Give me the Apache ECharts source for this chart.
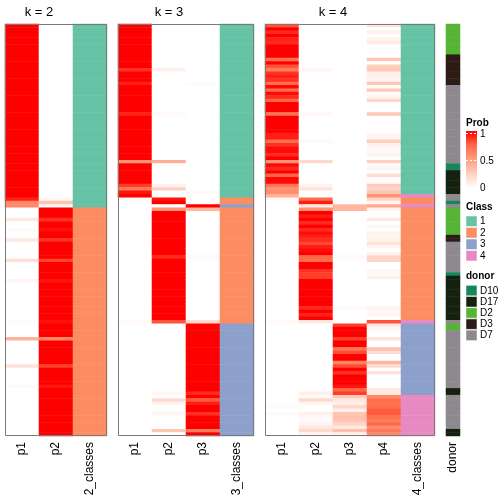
<!DOCTYPE html>
<html><head><meta charset="utf-8">
<script src="https://cdn.jsdelivr.net/npm/echarts@6/dist/echarts.min.js"></script>
<style>html,body{margin:0;padding:0;background:#fff}#c{width:504px;height:504px}</style>
</head><body><div id="c"></div>
<script>
// ---- data (rows top to bottom) ----
const k2_p1 = [
1,1,1,1,1,1,1,1,1,1, 1,1,1,1,1,1,1,1,1,1, 1,1,1,1,1,1,1,1,1,1, 1,1,1,1,1,1,1,1,1,1, 1,1,1,1,1,1,1,1,1,1,
1,0.92,0.6,0.6,0,0,0,0.12,0,0,
0.03,0,0,0.12,0,0,0,0,0,0.17,
0,0,0,0,0,0.05,0,0,0,0,
0,0,0,0,0,0,0,0.02,0,0,
0,0,0.4,0,0,0,0,0,0,0,
0.15,0,0,0,0,0,0.03,0,0,0,
0,0,0,0,0,0,0,0,0,0,0];
const k2_p2 = [
0,0,0,0,0,0,0,0,0,0, 0,0,0,0,0,0,0,0,0,0, 0,0,0,0,0,0,0,0,0,0, 0,0,0,0,0,0,0,0,0,0, 0,0,0,0,0,0,0,0,0,0,
0,0.05,0.3,0.03,1,1,1,0.88,1,1,
0.96,1,1,0.88,1,1,1,1,1,0.83,
1,1,1,1,1,0.95,1,1,1,1,
1,1,1,1,1,1,1,0.96,1,1,
1,1,0.6,1,1,1,1,1,1,1,
0.85,1,1,1,1,1,0.95,1,1,1,
1,1,1,1,1,1,1,1,1,1,1];
const k3_p1 = [
1,1,1,1,1,1,1,1,1,1,
1,1,1,0.88,1,1,1,0.92,1,1,
1,1,1,1,1,1,0.92,1,1,1,
1,1,1,1,1,1,1,1,1,1,
0.55,1,1,1,1,1,1,0.85,0.65,0.95,
1,0.03,0,0,0,0,0,0,0,0,
0,0,0,0,0,0,0,0,0,0,
0,0,0,0,0,0,0,0,0,0,
0,0,0,0,0,0,0,0.03,0,0,
0,0,0,0,0,0,0,0,0,0,
0,0,0,0,0,0,0,0,0,0,
0,0,0,0,0,0,0,0,0,0,0];
const k3_p2 = [
0,0,0,0,0,0,0,0,0,0,
0,0,0,0.07,0,0,0,0,0,0,
0,0,0,0,0,0,0.03,0,0,0,
0,0,0,0,0,0,0,0,0,0,
0.42,0,0,0,0,0,0,0.07,0.25,0,
0,0.95,1,0,0.55,1,1,1,1,1,
1,1,1,1,1,1,1,1,0.9,1,
1,1,1,1,1,1,1,1,1,1,
1,1,1,1,1,1,1,0.8,0,0,
0,0,0,0,0,0,0,0,0,0,
0,0,0,0,0,0,0,0,0.05,0,
0.18,0.06,0,0,0.05,0,0,0,0,0.3,0];
const k3_p3 = [
0,0,0,0,0,0,0,0,0,0,
0,0,0,0,0,0,0,0.02,0,0,
0,0,0,0,0,0,0,0,0,0,
0,0,0,0,0,0,0,0,0,0,
0,0,0,0,0,0,0,0,0,0.03,
0,0,0,1,0.38,0,0,0,0,0,
0,0,0,0,0,0,0,0,0.03,0,
0,0,0,0,0,0,0,0,0,0,
0,0,0,0,0,0,0,0.2,1,1,
1,1,1,1,1,1,1,1,1,1,
1,1,1,1,1,1,1,1,0.9,1,
0.78,0.93,1,1,0.88,1,1,1,1,0.65,1];
const k4_p1 = [
0.8,1,0.9,1,0.92,0.9,1,1,1,1,
0.7,1,0.8,0.65,0.88,0.92,0.88,0.72,0.98,0.72,
0.98,0.9,0.75,1,1,1,0.68,1,1,1,
1,1,0.93,0.93,0.72,0.88,0.97,0.97,0.9,1,
0.55,0.98,0.9,1,0.75,0.98,0.98,0.68,0.55,0.58,
0.4,0.04,0,0,0,0,0,0,0,0,
0,0,0,0,0,0,0,0,0,0,
0,0,0,0,0,0,0,0,0,0,
0,0,0,0,0,0,0,0.03,0,0,
0,0,0,0,0,0,0,0,0,0,
0,0,0,0,0,0,0,0,0,0,
0,0,0.02,0,0.02,0,0,0,0,0,0];
const k4_p2 = [
0,0,0,0,0,0,0,0,0,0,
0,0,0,0.05,0,0,0,0,0,0,
0,0,0,0,0,0,0.04,0,0,0,
0,0,0,0,0.03,0,0,0,0,0,
0.2,0,0,0,0,0,0,0.06,0.15,0,
0,0.72,0.93,0.1,0.55,1,0.93,1,0.9,1,
0.9,0.97,0.92,0.9,0.82,0.93,0.97,1,0.75,0.72,
1,1,0.88,0.85,0.85,1,1,1,1,1,
1,1,1,0.9,1,0.92,1,0.12,0,0,
0,0,0,0,0,0,0,0,0,0,
0,0,0,0,0,0,0,0,0.08,0.03,
0.2,0.05,0,0,0.08,0.03,0.02,0.05,0.12,0.2,0.05];
const k4_p3 = [
0,0,0,0,0,0,0,0,0,0, 0,0,0,0,0,0,0,0,0,0, 0,0,0,0,0,0,0,0,0,0, 0,0,0,0,0,0,0,0,0,0, 0,0,0,0,0,0,0,0,0,0,
0,0,0,0.38,0.38,0,0,0,0,0,
0,0,0,0,0,0,0,0,0.03,0,
0,0,0,0,0,0,0,0,0,0,
0,0,0,0.03,0,0,0,0,0.85,1,
1,1,0.85,1,1,0.68,0.82,1,1,0.62,
0.82,1,0.88,1,1,1,0.95,0.75,0.85,0.28,
0.12,0.08,0.22,0.08,0.3,0.33,0.3,0.22,0.12,0.33,0.08];
const k4_p4 = [
0.15,0,0.08,0,0.06,0.1,0,0,0,0,
0.3,0,0.25,0.28,0.08,0.08,0.05,0.28,0.02,0.28,
0.02,0.06,0.22,0,0,0,0.28,0,0,0,
0,0,0.05,0.05,0.25,0.08,0.03,0.03,0.07,0,
0.25,0.02,0.06,0,0.18,0.02,0.02,0.26,0.22,0.3,
0.55,0.22,0.05,0.45,0.06,0,0,0.12,0,0.05,
0,0.07,0.05,0.07,0.15,0.05,0,0.06,0.22,0.22,
0,0,0.05,0.03,0.07,0,0,0,0,0,
0,0,0,0.07,0.03,0.06,0,0.8,0.12,0.04,
0,0,0.15,0,0,0.32,0.18,0,0,0.38,
0.18,0,0.15,0,0,0,0,0.12,0.12,0.6,
0.72,0.7,0.72,0.78,0.78,0.72,0.65,0.75,0.58,0.68,0.6];
const k2_cls = [
1,1,1,1,1,1,1,1,1,1, 1,1,1,1,1,1,1,1,1,1, 1,1,1,1,1,1,1,1,1,1, 1,1,1,1,1,1,1,1,1,1, 1,1,1,1,1,1,1,1,1,1,
1,1,1,1,2,2,2,2,2,2,
2,2,2,2,2,2,2,2,2,2, 2,2,2,2,2,2,2,2,2,2, 2,2,2,2,2,2,2,2,2,2,
2,2,2,2,2,2,2,2,2,2, 2,2,2,2,2,2,2,2,2,2, 2,2,2,2,2,2,2,2,2,2,2];
const k3_cls = [
1,1,1,1,1,1,1,1,1,1, 1,1,1,1,1,1,1,1,1,1, 1,1,1,1,1,1,1,1,1,1, 1,1,1,1,1,1,1,1,1,1, 1,1,1,1,1,1,1,1,1,1,
1,2,2,3,2,2,2,2,2,2,
2,2,2,2,2,2,2,2,2,2, 2,2,2,2,2,2,2,2,2,2,
2,2,2,2,2,2,2,2,3,3,
3,3,3,3,3,3,3,3,3,3, 3,3,3,3,3,3,3,3,3,3, 3,3,3,3,3,3,3,3,3,3,3];
const k4_cls = [
1,1,1,1,1,1,1,1,1,1, 1,1,1,1,1,1,1,1,1,1, 1,1,1,1,1,1,1,1,1,1, 1,1,1,1,1,1,1,1,1,1, 1,1,1,1,1,1,1,1,1,1,
4,2,2,4,2,2,2,2,2,2,
2,2,2,2,2,2,2,2,2,2, 2,2,2,2,2,2,2,2,2,2,
2,2,2,2,2,2,2,4,3,3,
3,3,3,3,3,3,3,3,3,3,
3,3,3,3,3,3,3,3,3,4,
4,4,4,4,4,4,4,4,4,4,4];
const donor = [
'D2','D2','D2','D2','D2','D2','D2','D2','D2','D3',
'D3','D3','D3','D3','D3','D3','D3','D3','D7','D7',
'D7','D7','D7','D7','D7','D7','D7','D7','D7','D7',
'D7','D7','D7','D7','D7','D7','D7','D7','D7','D7',
'D7','D10','D10','D17','D17','D17','D17','D17','D17','D17',
'D7','D7','D10','D7','D2','D2','D2','D2','D2','D2',
'D2','D2','D3','D3','D7','D7','D7','D7','D7','D7',
'D7','D7','D7','D10','D17','D17','D17','D17','D17','D17',
'D17','D17','D17','D17','D17','D17','D17','D7','D2','D2',
'D7','D7','D7','D7','D7','D7','D7','D7','D7','D7',
'D7','D7','D7','D7','D7','D7','D7','D17','D17','D7',
'D7','D7','D7','D7','D7','D7','D7','D7','D7','D17','D17'];
const classLevels = [1, 2, 3, 4];
const donorLevels = ['D10', 'D17', 'D2', 'D3', 'D7'];
const probTicks = [1, 0.5, 0];

// ---- styles ----
const probColors = ['#FFFFFF', '#FFCFBF', '#FF9E81', '#FF6746', '#FF0000'];
const classColors = ['#66C2A5', '#FC8D62', '#8DA0CB', '#E78AC3'];
const donorColors = ['#16875C', '#15210F', '#55B434', '#2D1C15', '#8E898F'];
const FONT = 'Liberation Sans, Arial, sans-serif';

const rows = k2_p1.map((_, i) => 's' + (i + 1));
function cells(cols) {
  const out = [];
  cols.forEach((arr, ci) => arr.forEach((v, ri) => out.push([ci, ri, v])));
  return out;
}
const donorIdx = donor.map(d => donorLevels.indexOf(d));

const panels = [
  { left: 5, width: 68, cols: ['p1', 'p2'], data: cells([k2_p1, k2_p2]) },
  { left: 73, width: 34, cols: ['2_classes'], data: cells([k2_cls]) },
  { left: 118, width: 102, cols: ['p1', 'p2', 'p3'], data: cells([k3_p1, k3_p2, k3_p3]) },
  { left: 220, width: 34, cols: ['3_classes'], data: cells([k3_cls]) },
  { left: 265, width: 136, cols: ['p1', 'p2', 'p3', 'p4'], data: cells([k4_p1, k4_p2, k4_p3, k4_p4]) },
  { left: 401, width: 34, cols: ['4_classes'], data: cells([k4_cls]) },
  { left: 446, width: 14, cols: ['donor'], data: cells([donorIdx]) }
];
const TOP = 24, H = 412;

const grid = panels.map(p => ({ left: p.left, top: TOP, width: p.width, height: H, containLabel: false }));
const xAxis = panels.map((p, i) => ({
  type: 'category', gridIndex: i, data: p.cols, position: 'bottom',
  axisLine: { show: false }, axisTick: { show: false }, splitLine: { show: false },
  axisLabel: { rotate: 90, interval: 0, margin: 6, fontSize: 12, color: '#000', fontFamily: FONT }
}));
const yAxis = panels.map((p, i) => ({ type: 'category', gridIndex: i, data: rows, inverse: true, show: false }));
const series = panels.map((p, i) => ({
  type: 'heatmap', xAxisIndex: i, yAxisIndex: i, data: p.data, progressive: 0,
  itemStyle: { borderWidth: 0 }, emphasis: { disabled: true }
}));

const graphic = [];
// titles
[['k = 2', 39], ['k = 3', 169], ['k = 4', 333]].forEach(([t, x]) => {
  graphic.push({ type: 'text', x: x, y: 12, style: { text: t, fontSize: 13, fontFamily: FONT, fill: '#000', align: 'center', verticalAlign: 'middle' } });
});
// panel borders
[[5, 102], [118, 136], [265, 170]].forEach(([x, w]) => {
  graphic.push({ type: 'rect', z: 100, shape: { x: x + 0.5, y: TOP + 0.5, width: w - 1, height: H - 1 }, style: { fill: 'none', stroke: '#7a7a7a', lineWidth: 1 } });
});
// Prob legend
graphic.push({ type: 'text', x: 466, y: 123, style: { text: 'Prob', fontSize: 10, fontWeight: 'bold', fontFamily: FONT, fill: '#000', align: 'left', verticalAlign: 'middle' } });
graphic.push({ type: 'rect', shape: { x: 466, y: 131, width: 11, height: 57 },
  style: { fill: { type: 'linear', x: 0, y: 0, x2: 0, y2: 1, colorStops: probColors.slice().reverse().map((c, i) => ({ offset: i / (probColors.length - 1), color: c })) } } });
const tickY = { 1: 133.5, 0.5: 160.5, 0: 187.5 };
probTicks.forEach(v => {
  if (v > 0) graphic.push({ type: 'line', z: 10, shape: { x1: 466, y1: tickY[v], x2: 477, y2: tickY[v] }, style: { stroke: '#fff', lineWidth: 1, lineDash: [2, 2] } });
  graphic.push({ type: 'text', x: 480, y: tickY[v] + 1, style: { text: String(v), fontSize: 10, fontFamily: FONT, fill: '#000', align: 'left', verticalAlign: 'middle' } });
});
// Class legend
graphic.push({ type: 'text', x: 466, y: 207, style: { text: 'Class', fontSize: 10, fontWeight: 'bold', fontFamily: FONT, fill: '#000', align: 'left', verticalAlign: 'middle' } });
classLevels.forEach((c, i) => {
  const y = 216 + i * 11.5;
  graphic.push({ type: 'rect', shape: { x: 466, y: y, width: 11, height: 10.5 }, style: { fill: classColors[i], stroke: '#fff', lineWidth: 0.5 } });
  graphic.push({ type: 'text', x: 480, y: y + 5.5, style: { text: String(c), fontSize: 10, fontFamily: FONT, fill: '#000', align: 'left', verticalAlign: 'middle' } });
});
// donor legend
graphic.push({ type: 'text', x: 466, y: 276, style: { text: 'donor', fontSize: 10, fontWeight: 'bold', fontFamily: FONT, fill: '#000', align: 'left', verticalAlign: 'middle' } });
donorLevels.forEach((d, i) => {
  const y = 285.3 + i * 11.2;
  graphic.push({ type: 'rect', shape: { x: 466, y: y, width: 11, height: 10.5 }, style: { fill: donorColors[i], stroke: '#fff', lineWidth: 0.5 } });
  graphic.push({ type: 'text', x: 480, y: y + 5.5, style: { text: d, fontSize: 10, fontFamily: FONT, fill: '#000', align: 'left', verticalAlign: 'middle' } });
});

const chart = echarts.init(document.getElementById('c'), null, { renderer: 'canvas' });
chart.setOption({
  animation: false,
  backgroundColor: '#fff',
  grid, xAxis, yAxis, series, graphic,
  visualMap: [
    { type: 'continuous', show: false, min: 0, max: 1, dimension: 2, seriesIndex: [0, 2, 4], inRange: { color: probColors } },
    { type: 'piecewise', show: false, dimension: 2, seriesIndex: [1, 3, 5], pieces: classLevels.map((c, i) => ({ value: c, color: classColors[i] })) },
    { type: 'piecewise', show: false, dimension: 2, seriesIndex: [6], pieces: donorLevels.map((d, i) => ({ value: i, color: donorColors[i] })) }
  ]
});
</script></body></html>
